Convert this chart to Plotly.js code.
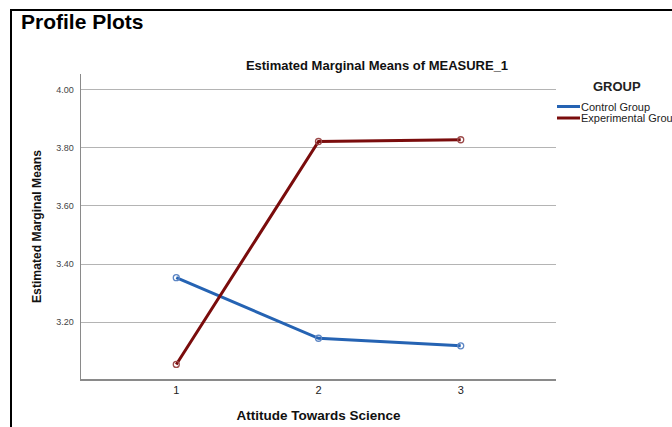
<!DOCTYPE html>
<html>
<head>
<meta charset="utf-8">
<script src="https://cdn.plot.ly/plotly-3.0.1.min.js"></script>
<style>
html,body{margin:0;padding:0;background:#fff;overflow:hidden;}
#chart{width:672px;height:427px;}
</style>
</head>
<body>
<div id="chart"></div>
<script>
// Data
const xCategories = [1, 2, 3];
const xTickLabels = ['1', '2', '3'];
const controlGroup = [3.353, 3.145, 3.119];
const experimentalGroup = [3.055, 3.821, 3.827];
const seriesNames = ['Control Group', 'Experimental Group'];
const yTickValues = [3.2, 3.4, 3.6, 3.8, 4.0];
const yTickLabels = ['3.20', '3.40', '3.60', '3.80', '4.00'];

const colors = ['#2563b3', '#7a0c0c'];
const markerColors = ['#5d86c4', '#9c4a4a'];
const F = 'Liberation Sans, Arial, sans-serif';

const traces = [controlGroup, experimentalGroup].map((vals, i) => ({
  type: 'scatter',
  mode: 'lines+markers',
  x: xCategories,
  y: vals,
  name: seriesNames[i],
  line: {color: colors[i], width: 3},
  marker: {symbol: 'circle-open', size: 6, color: markerColors[i], line: {width: 1.3}},
  showlegend: false,
  cliponaxis: false
}));

// paper coordinate helpers (plot area 81..556 x, 74..379 y)
const px = v => (v - 81) / 475;
const py = v => (379 - v) / 305;

const shapes = [
  // outer frame
  {type: 'line', xref: 'paper', yref: 'paper', x0: px(11), x1: px(11), y0: py(9), y1: py(430), line: {color: '#000', width: 2}},
  {type: 'line', xref: 'paper', yref: 'paper', x0: px(10), x1: px(675), y0: py(10), y1: py(10), line: {color: '#000', width: 2}}
];
const annotations = [
  {xref: 'paper', yref: 'paper', x: px(19), y: py(22), xanchor: 'left', yanchor: 'middle', showarrow: false,
   text: '<b>Profile Plots</b>', font: {family: F, size: 21, color: '#000'}},
  {xref: 'paper', yref: 'paper', x: px(617), y: py(86.5), xanchor: 'center', yanchor: 'middle', showarrow: false,
   text: '<b>GROUP</b>', font: {family: F, size: 13, color: '#222'}}
];
seriesNames.forEach((n, i) => {
  const yy = 106.5 + i * 11.5;
  shapes.push({type: 'line', xref: 'paper', yref: 'paper', x0: px(557), x1: px(580), y0: py(yy), y1: py(yy),
    line: {color: colors[i], width: 3}});
  annotations.push({xref: 'paper', yref: 'paper', x: px(579), y: py(yy), xanchor: 'left', yanchor: 'middle',
    showarrow: false, text: n, font: {family: F, size: 11, color: '#222'}});
});

const layout = {
  width: 672, height: 427,
  margin: {l: 81, r: 116, t: 74, b: 48, pad: 0},
  paper_bgcolor: '#fff', plot_bgcolor: '#fff',
  title: {text: '<b>Estimated Marginal Means of MEASURE_1</b>', font: {family: F, size: 13, color: '#111'},
    x: 377 / 672, xref: 'container', xanchor: 'center', y: 1 - 65 / 427, yref: 'container', yanchor: 'middle'},
  xaxis: {
    range: [0.33, 3.67], tickvals: xCategories, ticktext: xTickLabels,
    showgrid: false, zeroline: false, showline: true, linecolor: '#8a8a8a', linewidth: 1.5,
    ticks: '', tickfont: {family: F, size: 11, color: '#222'},
    title: {text: '<b>Attitude Towards Science</b>', font: {family: F, size: 13.5, color: '#111'}, standoff: 16}
  },
  yaxis: {
    range: [3.005, 4.053], tickvals: yTickValues, ticktext: yTickLabels,
    showgrid: true, gridcolor: '#b4b4b4', gridwidth: 1, zeroline: false,
    showline: true, linecolor: '#8a8a8a', linewidth: 1.5, ticks: '', ticklabelstandoff: 4,
    tickfont: {family: F, size: 9, color: '#444'},
    title: {text: '<b>Estimated Marginal Means</b>', font: {family: F, size: 12.2, color: '#111'}, standoff: 12}
  },
  shapes: shapes,
  annotations: annotations
};

Plotly.newPlot('chart', traces, layout, {displayModeBar: false, staticPlot: true});
</script>
</body>
</html>
